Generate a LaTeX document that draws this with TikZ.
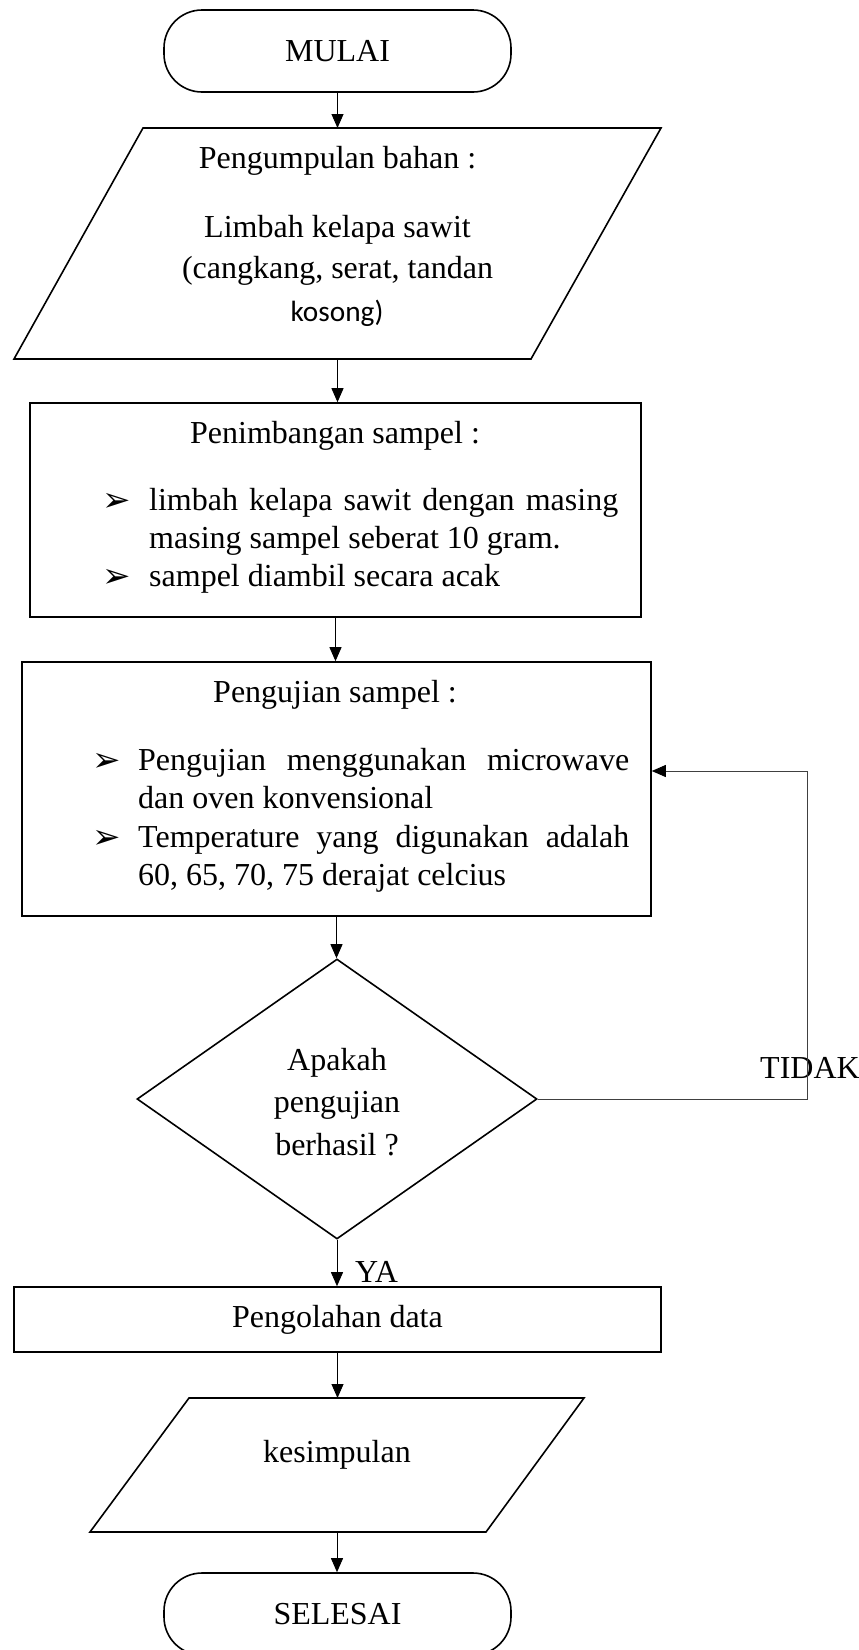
\documentclass[tikz,border=0pt]{standalone}
\usepackage{fontspec}
\setmainfont{Liberation Serif}
\newfontfamily\calfont{Carlito}
\newfontfamily\dingfont{DejaVu Sans}
\usetikzlibrary{arrows.meta,shapes.geometric,calc}
\newcommand\bigtxt{\fontsize{32}{38}\selectfont}
\tikzset{
  shp/.style={draw=black,line width=1.6pt,inner sep=0pt},
  term/.style={shp,rounded corners=38pt,minimum width=347pt,minimum height=82pt,font=\bigtxt},
  procbox/.style={shp,font=\bigtxt},
  ghost/.style={inner sep=0pt,outer sep=0pt},
  txt/.style={anchor=base,inner sep=0pt,font=\bigtxt},
  ltxt/.style={anchor=base west,inner sep=0pt,font=\bigtxt},
  bul/.style={anchor=west,inner sep=0pt,font=\dingfont\fontsize{34}{34}\selectfont},
  conn/.style={draw=black,line width=0.9pt,-{Triangle[length=14pt,width=12pt]}},
  loopline/.style={draw=black!75,line width=0.9pt,-{Triangle[length=14pt,width=12pt,color=black]}},
}
\begin{document}
\begin{tikzpicture}[x=1pt,y=-1pt]
\useasboundingbox (0,0) rectangle (859,1650);
\fill[white] (0,0) rectangle (859,1650);

% start
\node[term] (mulai) at (337.5,51) {MULAI};

% input: pengumpulan bahan
\node[ghost,minimum width=647pt,minimum height=231pt] (bahan) at (337.5,243.5) {};
\draw[shp] ($(bahan.north west)+(129,0)$) -- (bahan.north east) -- ($(bahan.south east)+(-130,0)$) -- (bahan.south west) -- cycle;
\node[txt] (b1) at (337.5,168) {Pengumpulan bahan :};
\node[txt] (b2) at (337.5,237) {Limbah kelapa sawit};
\node[txt] (b3) at (337.5,278) {(cangkang, serat, tandan};
\node[txt,font=\calfont\fontsize{29.3}{35}\selectfont] (b4) at (337,321) {kosong)};

% penimbangan
\node[procbox,minimum width=611pt,minimum height=214pt] (timbang) at (335.5,510) {};
\node[txt] (p0) at (335,443) {Penimbangan sampel :};
\node[bul] (pb1) at (102,502) {➢};
\node[ltxt] (p1) at (149,510) {\makebox[469pt][s]{limbah kelapa sawit dengan masing}};
\node[ltxt] (p2) at (149,548) {masing sampel seberat 10 gram.};
\node[bul] (pb2) at (102,578) {➢};
\node[ltxt] (p3) at (149,586) {sampel diambil secara acak};

% pengujian
\node[procbox,minimum width=629pt,minimum height=254pt] (uji) at (336.5,789) {};
\node[txt] (u0) at (335,702) {Pengujian sampel :};
\node[bul] (ub1) at (92,762) {➢};
\node[ltxt] (u1) at (138,770) {\makebox[491pt][s]{Pengujian menggunakan microwave}};
\node[ltxt] (u2) at (138,808) {dan oven konvensional};
\node[bul] (ub2) at (92,839) {➢};
\node[ltxt] (u3) at (138,847) {\makebox[491pt][s]{Temperature yang digunakan adalah}};
\node[ltxt] (u4) at (138,885) {60, 65, 70, 75 derajat celcius};

% decision
\node[shp,diamond,minimum width=400pt,minimum height=280pt] (cek) at (337,1099) {};
\node[txt] (c1) at (337,1070) {Apakah};
\node[txt] (c2) at (337,1112) {pengujian};
\node[txt] (c3) at (337,1155) {berhasil ?};

% pengolahan data
\node[procbox,minimum width=647pt,minimum height=65pt] (olah) at (337.5,1319.5) {Pengolahan data};

% output: kesimpulan
\node[ghost,minimum width=494pt,minimum height=134pt] (simpul) at (337,1465) {};
\draw[shp] ($(simpul.north west)+(99,0)$) -- (simpul.north east) -- ($(simpul.south east)+(-98,0)$) -- (simpul.south west) -- cycle;
\node[txt] (k1) at (337,1462) {kesimpulan};

% end
\node[term] (selesai) at (337.5,1614) {SELESAI};

% connectors
\draw[conn] (mulai.south) -- (mulai.south |- bahan.north);
\draw[conn] (bahan.south) -- (bahan.south |- timbang.north);
\draw[conn] (timbang.south) -- (timbang.south |- uji.north);
\draw[conn] (uji.south) -- (uji.south |- cek.north);
\draw[conn] (cek.south) -- (cek.south |- olah.north);
\node[ltxt] (ya) at (355,1282) {YA};
\draw[conn] (olah.south) -- (olah.south |- simpul.north);
\draw[conn] (simpul.south) -- (simpul.south |- selesai.north);

% loop back (TIDAK)
\node[ltxt] (tidak) at (760,1078) {TIDAK};
\coordinate (loopc) at (807,771);
\draw[loopline] (cek.east) -| (loopc) -- (loopc -| uji.east);
\end{tikzpicture}
\end{document}
